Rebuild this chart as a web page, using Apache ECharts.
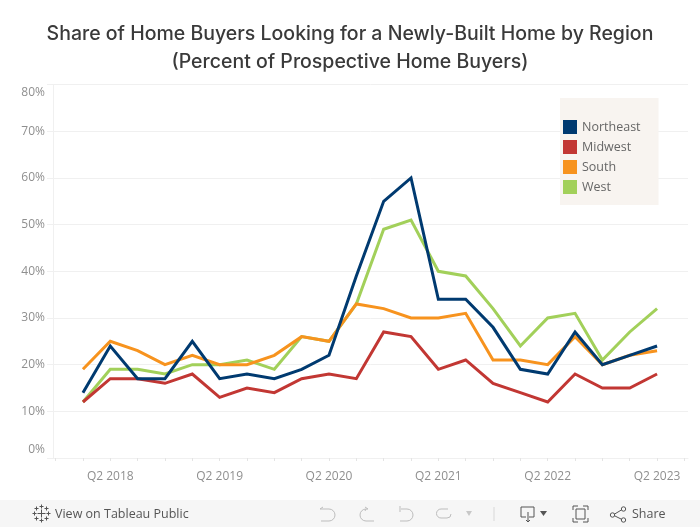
<!DOCTYPE html>
<html>
<head>
<meta charset="utf-8">
<title>Newly-Built Home Share</title>
<script src="https://cdn.jsdelivr.net/npm/echarts@6/dist/echarts.min.js"></script>
<style>
html, body { margin: 0; padding: 0; background: #fff; }
#chart { width: 700px; height: 527px; }
</style>
</head>
<body>
<div id="chart"></div>
<script>
var quarters = ['', 'Q1 2018', 'Q2 2018', 'Q3 2018', 'Q4 2018', 'Q1 2019', 'Q2 2019', 'Q3 2019', 'Q4 2019',
    'Q1 2020', 'Q2 2020', 'Q3 2020', 'Q4 2020', 'Q1 2021', 'Q2 2021', 'Q3 2021', 'Q4 2021',
    'Q1 2022', 'Q2 2022', 'Q3 2022', 'Q4 2022', 'Q1 2023', 'Q2 2023', ' '];
var northeast = [null, 14, 24, 17, 17, 25, 17, 18, 17, 19, 22, 39, 55, 60, 34, 34, 28, 19, 18, 27, 20, 22, 24, null];
var midwest = [null, 12, 17, 17, 16, 18, 13, 15, 14, 17, 18, 17, 27, 26, 19, 21, 16, 14, 12, 18, 15, 15, 18, null];
var south = [null, 19, 25, 23, 20, 22, 20, 20, 22, 26, 25, 33, 32, 30, 30, 31, 21, 21, 20, 26, 20, 22, 23, null];
var west = [null, 12, 19, 19, 18, 20, 20, 21, 19, 26, 25, 33, 49, 51, 40, 39, 32, 24, 30, 31, 21, 27, 32, null];

var regions = ['Northeast', 'Midwest', 'South', 'West'];
var colors = { Northeast: '#003a70', Midwest: '#c23733', South: '#f7931e', West: '#a2d05a' };
var font = '"Open Sans"';
var faded = '#bdbdbd';
var dark = '#555555';
var rule = '#f0f0f0';

var makeLine = function (name, data) {
    return {
        name: name,
        type: 'line',
        xAxisIndex: 1,
        yAxisIndex: 1,
        data: data,
        showSymbol: false,
        silent: true,
        lineStyle: { color: colors[name], width: 3, join: 'miter' },
        itemStyle: { color: colors[name] }
    };
};

/* toolbar icons are plain strokes on top of the footer */
var stroke = function (points, color) {
    return { type: 'polyline', z: 11, shape: { points: points }, style: { stroke: color, fill: null, lineWidth: 1 } };
};
var curve = function (cx, cy, r, start, end, color) {
    return { type: 'arc', z: 11, shape: { cx: cx, cy: cy, r: r, startAngle: start, endAngle: end, clockwise: true }, style: { stroke: color, fill: null, lineWidth: 1 } };
};
var dot = function (cx, cy) {
    return { type: 'circle', z: 12, shape: { cx: cx, cy: cy, r: 2.2 }, style: { stroke: dark, fill: '#f6f6f6', lineWidth: 1 } };
};
var cross = function (cx, cy, r) {
    return [stroke([[cx - r, cy], [cx + r, cy]], dark), stroke([[cx, cy - r], [cx, cy + r]], dark)];
};
var Pi = Math.PI;

var chart = echarts.init(document.getElementById('chart'), null, { renderer: 'canvas' });

var logo = [].concat(
    cross(41.5, 513.5, 4), cross(41.5, 506.5, 2), cross(41.5, 520.5, 2),
    cross(34.5, 513.5, 2), cross(48.5, 513.5, 2), cross(36.5, 508.5, 2),
    cross(46.5, 508.5, 2), cross(36.5, 518.5, 2), cross(46.5, 518.5, 2)
);

var option = {
    animation: false,
    backgroundColor: '#ffffff',
    textStyle: { fontFamily: font },
    title: {
        text: 'Share of Home Buyers Looking for a Newly-Built Home by Region\n(Percent of Prospective Home Buyers)',
        left: 345,
        top: 15,
        textAlign: 'center',
        textStyle: { fontFamily: 'Inter', fontSize: 19.5, fontWeight: 500, color: '#3a3a3a', lineHeight: 28 }
    },
    legend: {
        data: regions,
        orient: 'vertical',
        left: 560,
        top: 98,
        padding: [22, 18, 11, 3],
        backgroundColor: '#f8f4f0',
        icon: 'rect',
        itemWidth: 14,
        itemHeight: 14,
        itemGap: 6,
        itemStyle: { borderWidth: 0 },
        textStyle: { fontFamily: font, fontSize: 12.5, color: '#666666', padding: [5, 0, 0, 0] },
        selectedMode: false
    },
    // first grid only carries the rules and the value labels, second one the quarters and the lines
    grid: [
        { left: 53, right: 12, top: 84.6, bottom: 69 },
        { left: 55.6, right: 15.6, top: 84.6, bottom: 69 }
    ],
    xAxis: [{
        type: 'value',
        gridIndex: 0,
        min: 0,
        max: 1,
        axisLine: { show: true, lineStyle: { color: rule } },
        axisTick: { show: false },
        axisLabel: { show: false },
        splitLine: { show: false }
    }, {
        type: 'category',
        gridIndex: 1,
        data: quarters,
        boundaryGap: false,
        axisLine: { show: false },
        axisTick: { show: true, length: 3, interval: 0, lineStyle: { color: '#e4e4e4' } },
        axisLabel: {
            color: '#8f8f8f',
            fontSize: 12,
            margin: 13,
            interval: function (i, v) { return v.indexOf('Q2') === 0; }
        },
        splitLine: { show: false }
    }],
    yAxis: [{
        type: 'value',
        gridIndex: 0,
        min: 0,
        max: 80,
        interval: 10,
        axisLine: { show: true, lineStyle: { color: rule } },
        axisTick: { show: true, length: 6, lineStyle: { color: rule } },
        axisLabel: {
            color: '#8f8f8f',
            fontSize: 12,
            margin: 8,
            // end labels sit inside the plot height
            formatter: function (v) {
                if (v === 80) return '{top|' + v + '%}';
                if (v === 0) return '{bottom|' + v + '%}';
                return v + '%';
            },
            rich: {
                top: { padding: [16, 0, 0, 0], color: '#8f8f8f', fontSize: 12 },
                bottom: { padding: [0, 0, 16, 0], color: '#8f8f8f', fontSize: 12 }
            }
        },
        splitLine: { lineStyle: { color: rule, width: 1 } }
    }, {
        type: 'value',
        gridIndex: 1,
        min: 0,
        max: 80,
        show: false
    }],
    // west is drawn first, northeast ends up on top
    series: [
        makeLine('West', west),
        makeLine('South', south),
        makeLine('Midwest', midwest),
        makeLine('Northeast', northeast)
    ],
    graphic: [
        { type: 'rect', z: 10, shape: { x: 0, y: 500, width: 700, height: 27 }, style: { fill: '#f6f6f6' } },
        { type: 'text', z: 11, style: { x: 55, y: 514, text: 'View on Tableau Public', fill: dark, font: '12.5px ' + font, textVerticalAlign: 'middle' } },
        { type: 'text', z: 11, style: { x: 632, y: 514, text: 'Share', fill: dark, font: '12.5px ' + font, textVerticalAlign: 'middle' } }
    ].concat(logo, [
        // undo
        stroke([[323, 507], [320, 509], [329, 509]], faded), curve(329, 515, 6, -Pi / 2, Pi / 2, faded), stroke([[329, 521], [321, 521]], faded),
        // redo
        stroke([[365, 507], [368, 509], [366, 509], [365, 511]], faded), curve(366, 515, 6, Pi / 2, 3 * Pi / 2, faded), stroke([[366, 521], [374, 521]], faded),
        // revert
        stroke([[400, 506], [400, 512]], faded), stroke([[401, 509], [407, 509]], faded), curve(407, 515, 6, -Pi / 2, Pi / 2, faded), stroke([[407, 521], [400, 521]], faded),
        // refresh
        stroke([[448, 509], [441, 509]], faded), curve(441, 513.5, 4.5, Pi / 2, 3 * Pi / 2, faded), stroke([[441, 518], [447, 518]], faded), curve(447, 514, 4, 0, Pi / 2, faded),
        { type: 'polygon', z: 11, shape: { points: [[466, 511], [472, 511], [469, 516]] }, style: { fill: '#c8c8c8' } },
        stroke([[494, 507], [494, 521]], '#d8d8d8'),
        // download
        stroke([[526, 517], [521, 517], [521, 507], [534, 507], [534, 517], [529, 517]], dark),
        stroke([[528, 512], [528, 522]], dark), stroke([[526, 520], [528, 522], [530, 520]], dark),
        { type: 'polygon', z: 11, shape: { points: [[540, 511], [547, 511], [543.5, 516]] }, style: { fill: dark } },
        // fit screen
        stroke([[573, 510], [573, 506], [578, 506]], dark), stroke([[583, 506], [588, 506], [588, 510]], dark),
        stroke([[588, 518], [588, 522], [583, 522]], dark), stroke([[578, 522], [573, 522], [573, 518]], dark),
        stroke([[576, 509], [585, 509], [585, 519], [576, 519], [576, 509]], dark),
        // share
        stroke([[613, 515], [623, 509]], dark), stroke([[613, 515], [623, 520]], dark),
        dot(612.5, 515), dot(623.5, 509), dot(623.5, 520)
    ])
};
chart.setOption(option);
</script>
</body>
</html>
